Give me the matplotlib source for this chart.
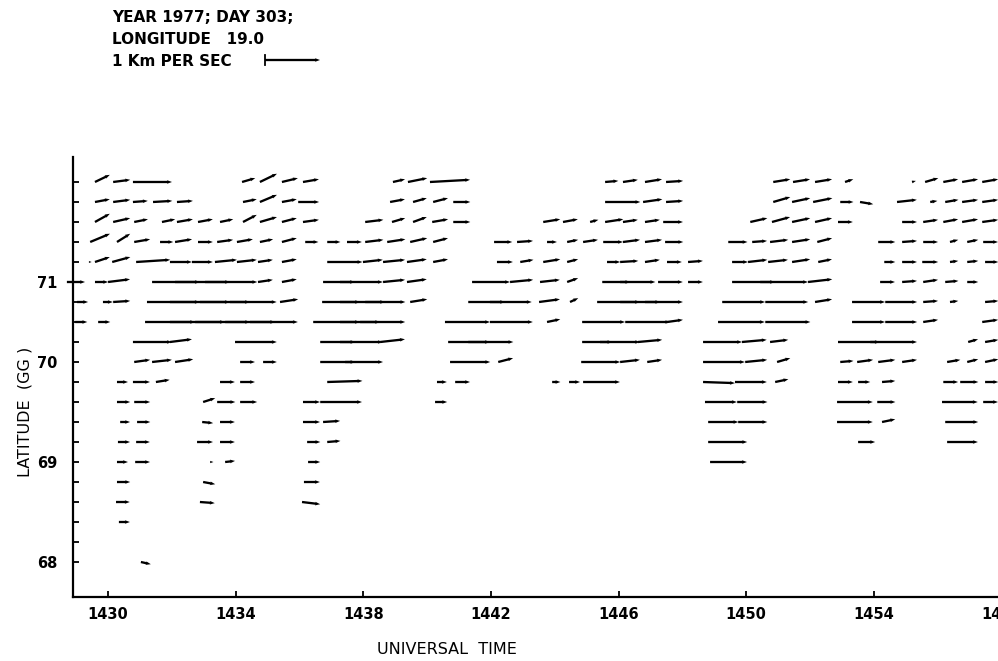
import matplotlib
matplotlib.use("Agg")
import matplotlib.pyplot as plt
from matplotlib.lines import Line2D
import numpy as np

# one list per radar row (row 0 = southernmost), each vector is
# (UT minute after 14:00, eastward km/s, northward km/s)
ROW_00 = [(31.03, 0.18, -0.04)]
ROW_01 = []
ROW_02 = [(30.34, 0.20, 0.0)]
ROW_03 = [(30.25, 0.25, 0.0), (32.88, 0.27, -0.02), (36.08, 0.33, -0.04)]
ROW_04 = [(30.28, 0.24, 0.0), (32.98, 0.22, -0.04), (36.14, 0.29, 0.0)]
ROW_05 = [(30.28, 0.20, 0.0), (30.85, 0.27, 0.0), (33.20, 0.06, 0.0), (33.67, 0.18, 0.02),
          (36.27, 0.22, 0.0), (48.87, 0.67, 0.0)]
ROW_06 = [(30.31, 0.22, 0.0), (30.88, 0.25, 0.0), (32.79, 0.29, 0.0), (33.51, 0.27, 0.0),
          (36.24, 0.24, 0.0), (36.87, 0.24, 0.02), (48.81, 0.71, 0.0), (53.51, 0.31, 0.0),
          (56.30, 0.56, 0.0)]
ROW_07 = [(30.38, 0.18, 0.0), (30.91, 0.24, 0.0), (32.95, 0.20, -0.02), (33.51, 0.27, 0.0),
          (36.11, 0.31, 0.0), (36.74, 0.31, 0.02), (48.81, 0.55, 0.0), (49.75, 0.53, 0.0),
          (52.85, 0.65, 0.0), (54.26, 0.24, 0.05), (56.24, 0.60, 0.0)]
ROW_08 = [(30.28, 0.24, 0.0), (30.82, 0.29, 0.0), (32.98, 0.22, 0.07), (33.42, 0.33, 0.0),
          (34.14, 0.31, 0.0), (36.11, 0.31, 0.0), (36.65, 0.76, 0.0), (40.25, 0.22, 0.0),
          (48.71, 0.58, 0.0), (49.72, 0.55, 0.0), (52.85, 0.65, 0.0), (54.11, 0.33, 0.0),
          (56.14, 0.65, 0.0), (57.43, 0.27, 0.0)]
ROW_09 = [(30.28, 0.20, 0.0), (30.78, 0.31, 0.0), (31.50, 0.25, 0.04), (33.51, 0.27, 0.0),
          (34.14, 0.27, 0.0), (36.87, 0.64, 0.02), (40.31, 0.18, 0.0), (40.88, 0.27, 0.0),
          (43.92, 0.15, 0.0), (44.45, 0.20, 0.0), (44.89, 0.67, 0.0), (48.65, 0.58, -0.02),
          (49.65, 0.58, 0.0), (50.91, 0.24, 0.05), (52.88, 0.27, 0.0), (53.51, 0.22, 0.0),
          (54.26, 0.24, 0.02), (56.18, 0.27, 0.0), (56.71, 0.33, 0.0), (57.49, 0.24, 0.0)]
ROW_10 = [(30.82, 0.29, 0.04), (31.38, 0.36, 0.04), (32.10, 0.33, 0.05), (34.14, 0.27, 0.0),
          (34.86, 0.25, 0.0), (36.65, 0.64, 0.0), (37.43, 0.69, 0.0), (40.72, 0.73, 0.0),
          (42.23, 0.27, 0.07), (44.83, 0.71, 0.0), (46.05, 0.36, 0.04), (46.90, 0.27, 0.04),
          (48.65, 0.76, 0.0), (49.97, 0.40, 0.04), (50.97, 0.24, 0.07), (52.95, 0.24, 0.02),
          (53.48, 0.29, 0.04), (54.14, 0.31, 0.04), (54.89, 0.27, 0.04), (56.30, 0.24, 0.04),
          (56.93, 0.20, 0.05), (57.49, 0.24, 0.05)]
ROW_11 = [(30.78, 0.71, 0.0), (31.94, 0.40, 0.05), (33.98, 0.76, 0.0), (36.65, 0.64, 0.0),
          (37.27, 0.78, 0.0), (38.53, 0.45, 0.05), (40.66, 0.76, 0.0), (41.29, 0.82, 0.0),
          (44.86, 0.55, 0.0), (45.42, 0.73, 0.0), (46.61, 0.44, 0.04), (48.65, 0.71, 0.0),
          (49.87, 0.45, 0.04), (50.75, 0.33, 0.04), (52.88, 0.76, 0.0), (53.89, 0.85, 0.0),
          (56.96, 0.18, 0.05), (57.49, 0.24, 0.04)]
ROW_12 = [(28.97, 0.22, 0.0), (29.69, 0.22, 0.0), (31.16, 0.91, 0.0), (31.94, 1.00, 0.0),
          (32.73, 1.00, 0.0), (33.67, 0.91, 0.0), (34.45, 0.87, 0.0), (36.43, 0.85, 0.0),
          (37.27, 0.73, 0.0), (37.90, 0.82, 0.0), (40.56, 0.82, 0.0), (41.97, 0.78, 0.0),
          (43.76, 0.24, 0.05), (44.86, 0.78, 0.0), (46.21, 0.82, 0.0), (47.52, 0.29, 0.04),
          (49.12, 0.85, 0.0), (50.60, 0.82, 0.0), (53.32, 0.60, 0.0), (54.36, 0.58, 0.0),
          (55.55, 0.27, 0.04), (57.40, 0.29, 0.04)]
ROW_13 = [(29.03, 0.20, 0.0), (29.84, 0.18, 0.0), (30.16, 0.31, 0.02), (31.22, 0.96, 0.0),
          (31.94, 1.09, 0.0), (32.88, 0.91, 0.0), (33.82, 0.85, 0.0), (35.39, 0.33, 0.05),
          (36.71, 0.69, 0.0), (37.27, 0.82, 0.0), (38.06, 0.73, 0.0), (39.47, 0.31, 0.05),
          (41.29, 0.67, 0.0), (41.97, 0.76, 0.0), (43.51, 0.38, 0.05), (44.48, 0.15, 0.07),
          (45.33, 0.78, 0.0), (46.05, 0.73, 0.0), (46.83, 0.69, 0.0), (49.25, 0.78, 0.0),
          (50.60, 0.78, 0.0), (52.16, 0.31, 0.05), (53.32, 0.60, 0.0), (54.36, 0.58, 0.0),
          (55.55, 0.27, 0.02), (56.39, 0.15, 0.02), (57.49, 0.24, 0.02)]
ROW_14 = [(28.71, 0.33, 0.0), (29.59, 0.24, 0.0), (30.00, 0.40, 0.05), (31.38, 0.87, 0.0),
          (32.10, 1.00, 0.0), (33.04, 0.95, 0.0), (34.70, 0.27, 0.04), (35.45, 0.27, 0.05),
          (36.74, 0.58, 0.0), (37.27, 0.78, 0.0), (38.62, 0.40, 0.04), (39.37, 0.36, 0.05),
          (41.41, 0.69, 0.0), (42.60, 0.42, 0.04), (43.54, 0.36, 0.04), (44.39, 0.20, 0.07),
          (45.49, 0.51, 0.0), (46.05, 0.64, 0.0), (47.24, 0.45, 0.0), (48.18, 0.27, 0.0),
          (49.56, 0.78, 0.0), (50.44, 0.87, 0.0), (51.94, 0.44, 0.05), (54.20, 0.27, 0.0),
          (54.89, 0.27, 0.02), (55.55, 0.27, 0.04), (56.24, 0.24, 0.02), (56.93, 0.20, 0.0)]
ROW_15 = [(29.40, 0.05, 0.0), (29.59, 0.27, 0.09), (30.13, 0.33, 0.09), (30.88, 0.62, 0.04),
          (31.94, 0.40, 0.0), (32.63, 0.38, 0.0), (33.35, 0.40, 0.04), (34.04, 0.36, 0.04),
          (34.70, 0.27, 0.04), (35.45, 0.27, 0.05), (36.87, 0.64, 0.0), (37.99, 0.36, 0.04),
          (38.62, 0.40, 0.04), (39.37, 0.36, 0.05), (40.19, 0.27, 0.05), (42.19, 0.29, 0.0),
          (42.92, 0.24, 0.04), (43.64, 0.31, 0.05), (44.39, 0.20, 0.05), (45.64, 0.24, 0.0),
          (46.05, 0.33, 0.02), (46.83, 0.27, 0.04), (47.52, 0.27, 0.0), (48.18, 0.27, 0.02),
          (49.56, 0.29, 0.0), (50.06, 0.35, 0.04), (50.69, 0.36, 0.04), (51.44, 0.33, 0.05),
          (52.26, 0.25, 0.05), (54.33, 0.20, 0.0), (54.89, 0.27, 0.0), (55.52, 0.29, 0.0),
          (56.39, 0.15, 0.02), (56.93, 0.20, 0.02), (57.49, 0.24, 0.0)]
ROW_16 = [(29.44, 0.36, 0.15), (30.28, 0.24, 0.15), (30.82, 0.29, 0.05), (31.63, 0.24, 0.0),
          (32.10, 0.31, 0.05), (32.82, 0.27, 0.0), (33.42, 0.29, 0.04), (34.04, 0.29, 0.05),
          (34.76, 0.24, 0.05), (35.45, 0.27, 0.07), (36.18, 0.24, 0.0), (36.87, 0.24, 0.0),
          (37.49, 0.27, 0.0), (38.06, 0.33, 0.04), (38.75, 0.33, 0.05), (39.47, 0.31, 0.07),
          (40.19, 0.27, 0.07), (42.10, 0.33, 0.0), (42.82, 0.29, 0.02), (43.76, 0.18, 0.0),
          (44.39, 0.20, 0.04), (44.89, 0.27, 0.04), (45.52, 0.36, 0.0), (46.14, 0.31, 0.04),
          (46.83, 0.31, 0.04), (47.46, 0.33, 0.0), (49.44, 0.35, 0.0), (50.19, 0.27, 0.02),
          (50.75, 0.33, 0.04), (51.44, 0.33, 0.05), (52.23, 0.27, 0.07), (54.14, 0.31, 0.0),
          (54.89, 0.27, 0.02), (55.55, 0.27, 0.0), (56.39, 0.15, 0.04), (56.93, 0.20, 0.04),
          (57.43, 0.27, 0.0)]
ROW_17 = [(29.59, 0.27, 0.15), (30.16, 0.31, 0.07), (30.82, 0.25, 0.05), (31.69, 0.24, 0.05),
          (32.16, 0.29, 0.05), (32.82, 0.27, 0.05), (33.51, 0.24, 0.05), (34.23, 0.25, 0.13),
          (34.76, 0.31, 0.09), (35.45, 0.27, 0.07), (36.11, 0.29, 0.04), (38.06, 0.33, 0.04),
          (38.90, 0.24, 0.07), (39.56, 0.25, 0.09), (40.16, 0.29, 0.05), (40.82, 0.31, 0.0),
          (43.64, 0.31, 0.05), (44.26, 0.27, 0.05), (45.11, 0.15, 0.04), (45.58, 0.33, 0.05),
          (46.14, 0.27, 0.04), (46.83, 0.27, 0.04), (47.40, 0.36, 0.0), (50.13, 0.31, 0.07),
          (50.81, 0.33, 0.09), (51.44, 0.33, 0.07), (52.16, 0.31, 0.07), (52.88, 0.27, 0.0),
          (54.89, 0.27, 0.0), (55.55, 0.27, 0.04), (56.18, 0.27, 0.05), (56.77, 0.29, 0.05),
          (57.40, 0.29, 0.04)]
ROW_18 = [(29.59, 0.27, 0.05), (30.16, 0.31, 0.04), (30.78, 0.27, 0.02), (31.41, 0.35, 0.02),
          (32.16, 0.29, 0.02), (34.23, 0.25, 0.05), (34.76, 0.31, 0.13), (35.45, 0.27, 0.05),
          (35.96, 0.38, 0.0), (38.84, 0.27, 0.05), (39.56, 0.25, 0.07), (40.19, 0.27, 0.07),
          (40.82, 0.31, 0.0), (45.58, 0.64, 0.0), (46.77, 0.35, 0.05), (47.49, 0.31, 0.02),
          (50.85, 0.31, 0.09), (51.44, 0.33, 0.07), (52.10, 0.35, 0.07), (52.95, 0.24, 0.0),
          (53.57, 0.24, -0.04), (54.73, 0.36, 0.04), (55.77, 0.13, 0.02), (56.24, 0.24, 0.04),
          (56.77, 0.29, 0.04), (57.40, 0.29, 0.04)]
ROW_19 = [(29.59, 0.27, 0.13), (30.16, 0.31, 0.04), (30.78, 0.71, 0.0), (34.20, 0.24, 0.07),
          (34.76, 0.31, 0.15), (35.45, 0.29, 0.07), (36.11, 0.29, 0.05), (38.93, 0.22, 0.05),
          (39.40, 0.35, 0.07), (40.09, 0.73, 0.04), (45.58, 0.24, 0.02), (46.14, 0.27, 0.04),
          (46.83, 0.31, 0.05), (47.49, 0.31, 0.02), (50.85, 0.31, 0.05), (51.47, 0.31, 0.05),
          (52.16, 0.31, 0.05), (53.10, 0.15, 0.05), (55.20, 0.07, 0.02), (55.61, 0.24, 0.07),
          (56.18, 0.27, 0.05), (56.77, 0.29, 0.05), (57.40, 0.29, 0.05)]

ROWS = [ROW_00, ROW_01, ROW_02, ROW_03, ROW_04, ROW_05, ROW_06, ROW_07, ROW_08, ROW_09,
        ROW_10, ROW_11, ROW_12, ROW_13, ROW_14, ROW_15, ROW_16, ROW_17, ROW_18, ROW_19]

LAT_TICK_ROWS = [0, 5, 10, 14]
LAT_TICK_LABELS = ["68", "69", "70", "71"]
TIME_TICKS = [30, 34, 38, 42, 46, 50, 54, 58]
TIME_LABELS = ["1430", "1434", "1438", "1442", "1446", "1450", "1454", "1458"]
HEADER = ["YEAR 1977; DAY 303;", "LONGITUDE   19.0", "1 Km PER SEC"]

KM_PER_INCH = 1 / 0.55   # 1 km/s drawn 0.55 in long


def main():
    t, r, u, v = [], [], [], []
    for i, row in enumerate(ROWS):
        for minute, ve, vn in row:
            t.append(minute)
            r.append(i)
            u.append(ve)
            v.append(vn)

    fig = plt.figure(figsize=(9.98, 6.61), dpi=100)
    ax = fig.add_axes([0.0731, 0.0968, 0.9389, 0.6657])
    ax.set_xlim(28.90, 58.27)
    ax.set_ylim(-1.75, 20.25)

    q = ax.quiver(np.array(t), np.array(r), np.array(u), np.array(v),
                  angles="uv", scale_units="inches", scale=KM_PER_INCH,
                  pivot="tail", units="dots", width=2.3, headwidth=1.6,
                  headlength=2.2, headaxislength=2.0, color="black",
                  clip_on=False)

    for side in ("top", "right"):
        ax.spines[side].set_visible(False)
    for side in ("left", "bottom"):
        ax.spines[side].set_linewidth(1.6)

    ax.set_xticks(TIME_TICKS)
    ax.set_xticklabels(TIME_LABELS)
    ax.set_yticks(LAT_TICK_ROWS)
    ax.set_yticklabels(LAT_TICK_LABELS)
    ax.set_yticks([i for i in range(len(ROWS)) if i not in LAT_TICK_ROWS], minor=True)
    ax.tick_params(axis="both", which="both", direction="in", length=4.5, width=1.3)
    ax.tick_params(axis="x", pad=7, labelsize=10.5)
    ax.tick_params(axis="y", pad=11, labelsize=10.5)
    for lab in ax.get_xticklabels() + ax.get_yticklabels():
        lab.set_fontweight("bold")

    for k, line in enumerate(HEADER):
        fig.text(112 / 998, 1 - (17 + 22 * k) / 661, line, fontsize=11,
                 fontweight="bold", ha="left", va="center")

    # 1 km/s scale bar
    ax.quiverkey(q, 265 / 998, 1 - 60 / 661, 1.0, " ", labelpos="W",
                 coordinates="figure")
    fig.add_artist(Line2D([265 / 998, 265 / 998], [1 - 55 / 661, 1 - 65 / 661],
                          transform=fig.transFigure, color="black", lw=1.3))

    fig.text(447 / 998, 1 - 650 / 661, "UNIVERSAL  TIME", fontsize=11.5,
             ha="center", va="center")
    fig.text(25 / 998, 1 - 412 / 661, "LATITUDE  (GG )", fontsize=11.5,
             rotation=90, ha="center", va="center")

    fig.savefig("out.png", dpi=100)
    plt.close(fig)


if __name__ == "__main__":
    main()
